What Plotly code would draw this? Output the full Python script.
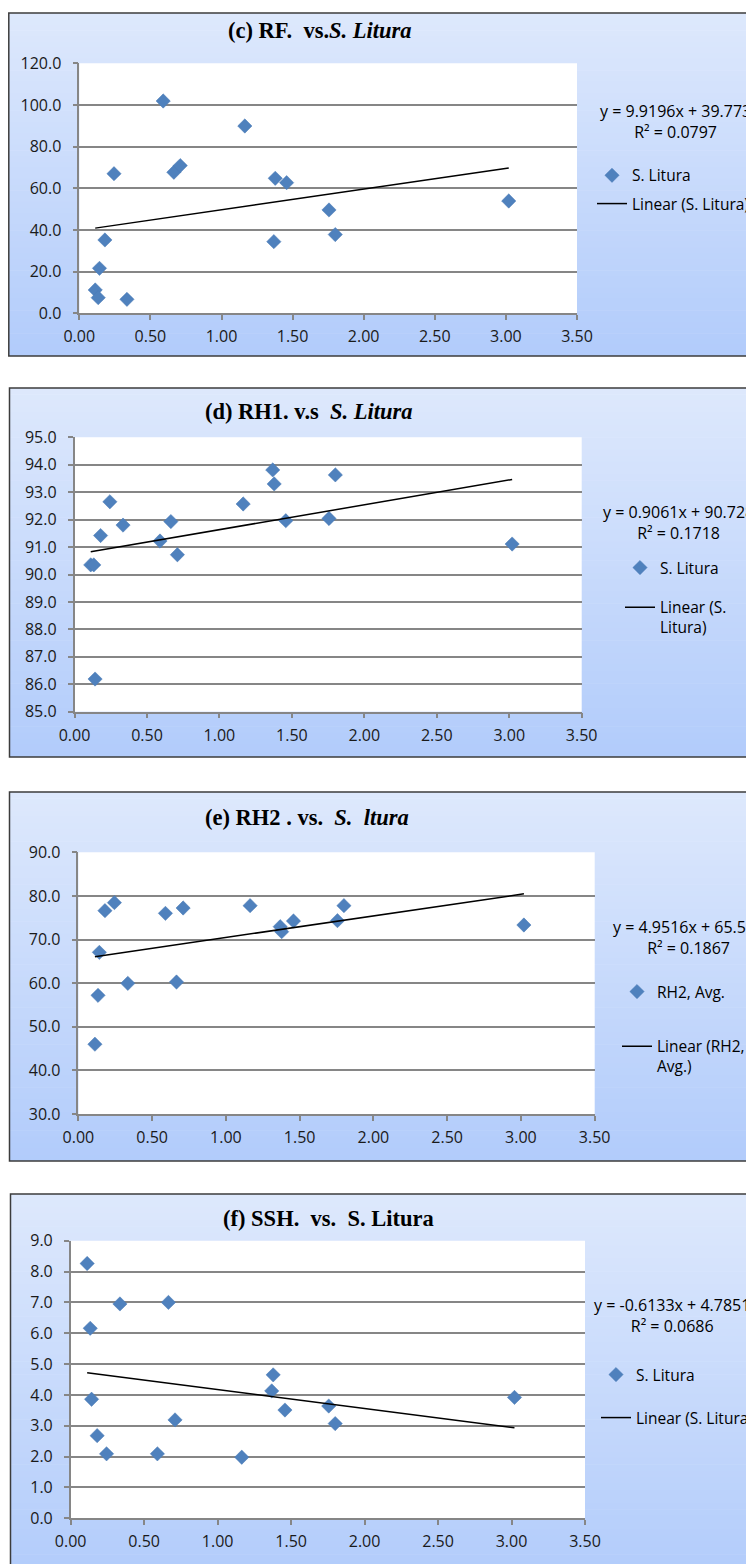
import numpy as np
import plotly.graph_objects as go

W, H = 754, 1564

# ---------------- data ----------------
s_litura = [0.112, 0.133, 0.142, 0.180, 0.244, 0.335, 0.590, 0.665,
            0.710, 1.164, 1.368, 1.378, 1.458, 1.756, 1.800, 3.020]

rf_vals = [11.2, 7.5, 21.6, 35.2, 67.0, 6.7, 101.9, 67.7,
           70.9, 89.9, 34.4, 64.8, 62.7, 49.6, 37.8, 53.9]

rh1_vals = [90.35, 90.35, 86.19, 91.42, 92.65, 91.80, 91.22, 91.93,
            90.72, 92.57, 93.81, 93.30, 91.96, 92.04, 93.63, 91.11]

rh2_vals = [46.0, 57.2, 67.06, 76.62, 78.46, 59.95, 76.0, 60.26,
            77.23, 77.77, 72.95, 71.8, 74.25, 74.33, 77.77, 73.33]

ssh_vals = [8.26, 6.16, 3.86, 2.68, 2.09, 6.95, 2.09, 7.0,
            3.19, 1.98, 4.13, 4.65, 3.51, 3.64, 3.07, 3.92]

titles = ["(c) RF.  vs.<i>S. Litura</i>",
          "(d) RH1. v.s  <i>S. Litura</i>",
          "(e) RH2 . vs.  <i>S.  ltura</i>",
          "(f) SSH.  vs.  S. Litura"]

slopes = [9.9196, 0.9061, 4.9516, -0.6133]
intercepts = [39.773, 90.728, 65.519, 4.7851]
eq_texts = ["y = 9.9196x + 39.773", "y = 0.9061x + 90.728",
            "y = 4.9516x + 65.519", "y = -0.6133x + 4.7851"]
r2_texts = ["R² = 0.0797", "R² = 0.1718", "R² = 0.1867", "R² = 0.0686"]

series_names = ["S. Litura", "S. Litura", "RH2, Avg.", "S. Litura"]
trend_names = ["Linear (S. Litura)", "Linear (S.<br>Litura)",
               "Linear (RH2,<br>Avg.)", "Linear (S. Litura)"]

y_ranges = [[0, 120], [85, 95], [30, 90], [0, 9]]
y_dticks = [20, 1, 10, 1]
x_ticks = [0.0, 0.5, 1.0, 1.5, 2.0, 2.5, 3.0, 3.5]

all_y = [rf_vals, rh1_vals, rh2_vals, ssh_vals]

# ---------------- layout (pixels, page coordinates) ----------------
OFF = 8  # page body margin
boxes = [(8.8, 13, 770, 356), (9.5, 388, 770, 757), (9.5, 792, 770, 1161), (10.5, 1194, 770, 1580)]
plots = [(79.3, 63.3, 577, 313.3), (74.5, 437.3, 581.7, 711.7),
         (78.4, 852.3, 594.7, 1114), (70.7, 1240.7, 585, 1518.3)]
title_pos = [(320, 31), (309, 411.7), (307, 817), (328, 1218)]
eq_pos = [(598, 122), (601, 523), (610.6, 938), (592, 1315)]
leg_x = [613, 641, 638, 617]
leg_marker_y = [175.7, 568, 992, 1375]
leg_line_y = [204, 606.7, 1045.7, 1418]


def px(p):
    return (p - OFF) / W


def py(p):
    return 1 - (p - OFF) / H


FONT = "Open Sans"
top_c = np.array([222, 233, 253])
bot_c = np.array([178, 204, 251])

fig = go.Figure()
shapes = []
annotations = []
layout_axes = {}

for i in range(4):
    n = "" if i == 0 else str(i + 1)
    xa, ya = "x" + n, "y" + n
    bx0, by0, bx1, by1 = boxes[i]
    # gradient background
    nb = 60
    for k in range(nb):
        t = (k + 0.5) / nb
        c = top_c + (bot_c - top_c) * t
        y0 = by0 + (by1 - by0) * k / nb
        y1 = by0 + (by1 - by0) * (k + 1) / nb + 0.6
        shapes.append(dict(type="rect", xref="paper", yref="paper", layer="below",
                           x0=px(bx0), x1=px(bx1), y0=py(y0), y1=py(min(y1, by1)),
                           fillcolor="rgb(%d,%d,%d)" % tuple(c.astype(int)),
                           line=dict(width=0)))
    shapes.append(dict(type="rect", xref="paper", yref="paper", layer="below",
                       x0=px(bx0), x1=px(bx1), y0=py(by0), y1=py(by1),
                       fillcolor="rgba(0,0,0,0)", line=dict(color="#3c3c3c", width=1.5)))
    pl = plots[i]
    shapes.append(dict(type="rect", xref="paper", yref="paper", layer="below",
                       x0=px(pl[0]), x1=px(pl[2]), y0=py(pl[1]), y1=py(pl[3]),
                       fillcolor="white", line=dict(width=0)))

    layout_axes["xaxis" + n] = dict(
        domain=[px(pl[0]), px(pl[2])], anchor=ya, range=[0, 3.5],
        tickvals=x_ticks, tickformat=".2f", showgrid=False, zeroline=False,
        showline=True, linecolor="#868686", linewidth=1.5,
        ticks="outside", ticklen=5, tickwidth=1.5, tickcolor="#868686",
        tickfont=dict(family=FONT, size=16, color="#1a1a1a"),
        ticklabelstandoff=3, fixedrange=True, automargin=False)
    layout_axes["yaxis" + n] = dict(
        domain=[py(pl[3]), py(pl[1])], anchor=xa, range=y_ranges[i],
        dtick=y_dticks[i], tick0=y_ranges[i][0], tickformat=".1f",
        showgrid=True, gridcolor="#868686", gridwidth=1.5, zeroline=False,
        showline=True, linecolor="#868686", linewidth=1.5,
        ticks="outside", ticklen=5, tickwidth=1.5, tickcolor="#868686",
        tickfont=dict(family=FONT, size=16, color="#1a1a1a"),
        ticklabelstandoff=8, fixedrange=True, automargin=False)

    lm = "legend" if i == 0 else "legend" + str(2 * i + 1)
    ll = "legend" + str(2 * i + 2)

    fig.add_trace(go.Scatter(
        x=s_litura, y=all_y[i], mode="markers", name=series_names[i],
        xaxis=xa, yaxis=ya, legend=lm,
        marker=dict(symbol="diamond", size=11, color="#4F81BD",
                    line=dict(color="#4a7bb5", width=0.5))))
    xs = np.array([min(s_litura), max(s_litura)])
    fig.add_trace(go.Scatter(
        x=xs, y=slopes[i] * xs + intercepts[i], mode="lines", name=trend_names[i],
        xaxis=xa, yaxis=ya, legend=ll, line=dict(color="black", width=1.5)))

    two_line = "<br>" in trend_names[i]
    layout_axes[lm] = dict(x=px(leg_x[i] - 21), y=py(leg_marker_y[i]), xanchor="left",
                           yanchor="middle", bgcolor="rgba(0,0,0,0)", valign="top",
                           font=dict(family=FONT, size=15.5, color="black"),
                           itemclick=False, itemdoubleclick=False)
    layout_axes[ll] = dict(x=px(leg_x[i] - 21),
                           y=py(leg_line_y[i] + (11 if two_line else 0)),
                           xanchor="left", yanchor="middle", valign="top",
                           bgcolor="rgba(0,0,0,0)",
                           font=dict(family=FONT, size=15.5, color="black"),
                           itemclick=False, itemdoubleclick=False)

    tx, ty = title_pos[i]
    annotations.append(dict(xref="paper", yref="paper", x=px(tx), y=py(ty),
                            xanchor="center", yanchor="middle", showarrow=False,
                            text="<b>" + titles[i] + "</b>",
                            font=dict(family="Liberation Serif", size=22.5, color="black")))
    ex, ey = eq_pos[i]
    annotations.append(dict(xref="paper", yref="paper", x=px(ex), y=py(ey),
                            xanchor="left", yanchor="middle", showarrow=False, align="center",
                            text=eq_texts[i] + "<br>" + r2_texts[i],
                            font=dict(family=FONT, size=16, color="black")))

fig.update_layout(width=W, height=H,
                  margin=dict(l=0, r=0, t=0, b=0, autoexpand=False),
                  paper_bgcolor="white", plot_bgcolor="white",
                  shapes=shapes, annotations=annotations, showlegend=True,
                  **layout_axes)

fig.write_html("out.html")
